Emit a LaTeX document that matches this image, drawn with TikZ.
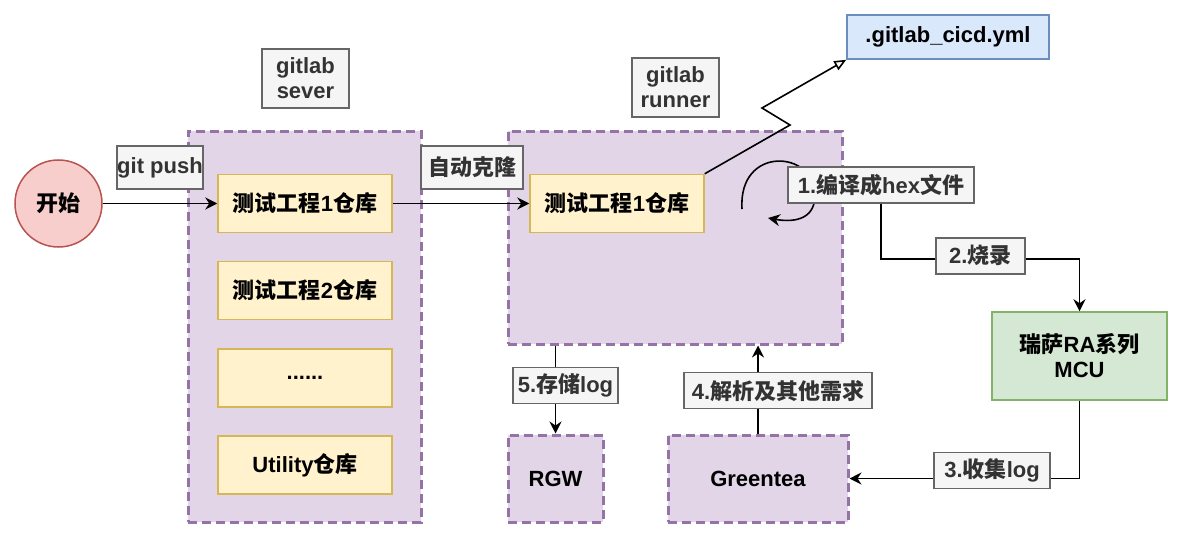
\documentclass[tikz,border=0pt]{standalone}
\usepackage{fontspec}
\setmainfont{Liberation Sans}
\newfontfamily\cjk{Noto Sans CJK SC}
\newcommand{\zh}[1]{{\cjk #1}}
\usepackage{tikz}
\usetikzlibrary{arrows.meta}

\definecolor{grpfill}{HTML}{E1D5E7}
\definecolor{grpline}{HTML}{9673A6}
\definecolor{repofill}{HTML}{FFF2CC}
\definecolor{repoline}{HTML}{D6B656}
\definecolor{lblfill}{HTML}{F5F5F5}
\definecolor{lblline}{HTML}{666666}
\definecolor{lbltext}{HTML}{333333}
\definecolor{ymlfill}{HTML}{DAE8FC}
\definecolor{ymlline}{HTML}{6C8EBF}
\definecolor{mcufill}{HTML}{D5E8D4}
\definecolor{mculine}{HTML}{82B366}
\definecolor{startfill}{HTML}{F8CECC}
\definecolor{startline}{HTML}{B85450}

\tikzset{
	base/.style={inner sep=0pt, align=center, font=\fontsize{11}{12.5}\selectfont\bfseries},
	lbl/.style={base, draw=lblline, fill=lblfill, text=lbltext, line width=0.75pt},
	repo/.style={base, draw=repoline, fill=repofill, line width=0.75pt, minimum width=87pt, minimum height=29pt},
	grp/.style={base, draw=grpline, fill=grpfill, line width=1.5pt, dash pattern=on 4.5pt off 2.5pt},
	conn/.style={line width=0.8pt, -{Stealth[length=6pt, width=6pt, inset=2pt]}},
}

\begin{document}
\begin{tikzpicture}[x=0.5pt, y=-0.5pt]
	\useasboundingbox (0,0) rectangle (1182,540);
	% containers
	\node[grp, minimum width=116.5pt, minimum height=195.5pt] (server) at (304.5,326.5) {};
	\node[grp, minimum width=167pt, minimum height=106.5pt] (runner) at (675,237.5) {};
	\node[grp, minimum width=47.5pt, minimum height=43.5pt] (rgw) at (555.5,478.5) {RGW};
	\node[grp, minimum width=90pt, minimum height=43.5pt] (greentea) at (758,478.5) {Greentea};
	% boxes
	\node[base, circle, draw=startline, fill=startfill, line width=0.75pt, minimum size=43.5pt] (start) at (58.5,203.5) {\zh{开始}};
	\node[repo] (repoA) at (305,203.5) {\zh{测试工程}1\zh{仓库}};
	\node[repo] (repoB) at (305,290.5) {\zh{测试工程}2\zh{仓库}};
	\node[repo] (repoC) at (305,378) {......};
	\node[repo] (repoD) at (305,465) {Utility\zh{仓库}};
	\node[repo] (runrepo) at (617,203.5) {\zh{测试工程}1\zh{仓库}};
	\node[base, draw=ymlline, fill=ymlfill, line width=0.75pt, minimum width=101pt, minimum height=22pt] (yml) at (948,37) {.gitlab\_cicd.yml};
	\node[base, draw=mculine, fill=mcufill, line width=0.75pt, minimum width=87.5pt, minimum height=44pt] (mcu) at (1079.5,356) {\zh{瑞萨}RA\zh{系列}\\MCU};
	% labels
	\node[lbl, minimum width=43pt, minimum height=21.5pt] (pushlbl) at (160,167.5) {git push};
	\node[lbl, minimum width=43.5pt, minimum height=29.5pt] (srvlbl) at (305.5,78.5) {gitlab\\sever};
	\node[lbl, minimum width=51pt, minimum height=21.5pt] (clonelbl) at (472,167.5) {\zh{自动克隆}};
	\node[lbl, minimum width=43.5pt, minimum height=29.5pt] (runlbl) at (675.5,87.5) {gitlab\\runner};
	% connectors
	\coordinate (zzA) at (790,125);
	\coordinate (zzB) at (762,108);
	\coordinate (loopA) at (742,209);
	\coordinate (loopB) at (768,218);
	\draw[conn] (start) -- (repoA);
	\draw[conn] (repoA) -- (runrepo);
	\draw[line width=0.8pt, -{Triangle[open, length=6pt, width=5pt]}] (runrepo.north east) -- (zzA) -- (zzB) -- (yml.south west);
	\draw[conn] (loopA) .. controls (738,145) and (815,150) .. (815,195) .. controls (815,222) and (790,222) .. (loopB);
	\node[lbl, minimum width=93pt, minimum height=18pt] (lblA) at (881,185) {1.\zh{编译成}hex\zh{文件}};
	\draw[conn] (lblA.south) -- ++(0,55) -| (mcu.north) node[lbl, pos=0.25, yshift=1.5pt, minimum width=44.5pt, minimum height=18pt] (lblB) {2.\zh{烧录}};
	\draw[conn] (mcu.south) |- (greentea.east) node[lbl, pos=0.69, yshift=4pt, minimum width=58pt, minimum height=18pt] (lblC) {3.\zh{收集}log};
	\draw[conn] (greentea.north) -- (greentea.north |- runner.south) node[lbl, midway, xshift=10pt, yshift=-0.6pt, minimum width=94pt, minimum height=18pt] (lblD) {4.\zh{解析及其他需求}};
	\draw[conn] (rgw.north |- runner.south) -- (rgw.north) node[lbl, midway, xshift=5pt, yshift=1.9pt, minimum width=52.5pt, minimum height=18pt] (lblE) {5.\zh{存储}log};
\end{tikzpicture}
\end{document}
